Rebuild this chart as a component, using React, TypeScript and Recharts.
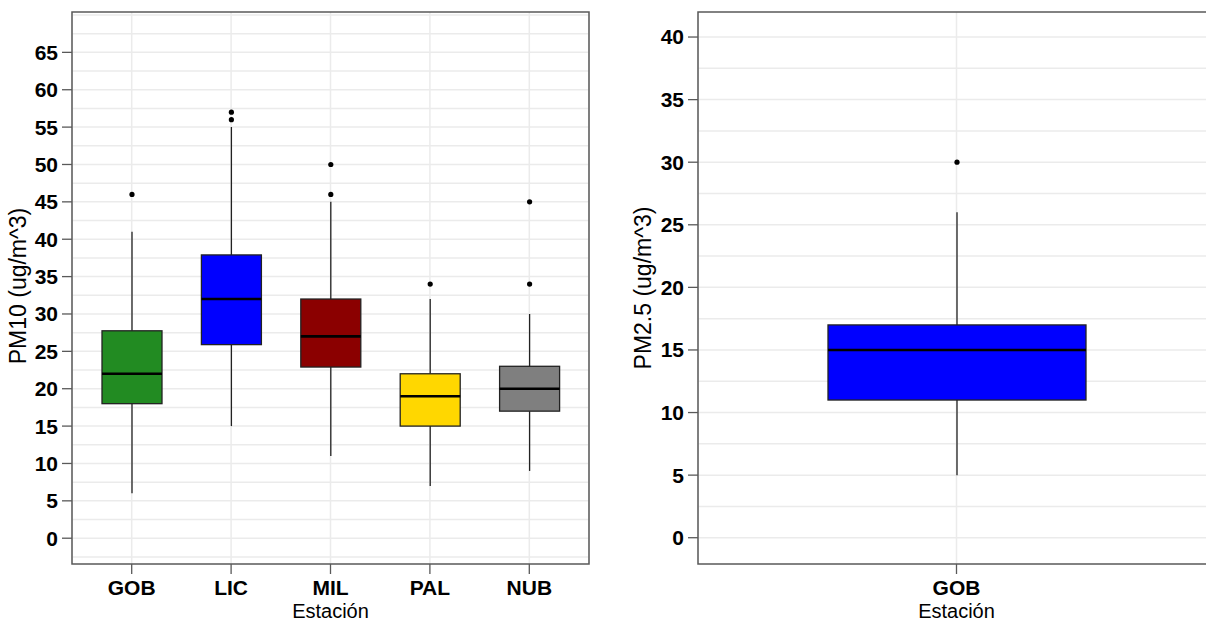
import React from 'react';
import { ComposedChart, Bar, XAxis, YAxis, CartesianGrid } from 'recharts';

const FONT = '"Liberation Sans", Arial, sans-serif';

// PM10 por estación
const pm10Stations = ['GOB', 'LIC', 'MIL', 'PAL', 'NUB'];
const pm10Colors = ['#228B22', '#0000FF', '#8B0000', '#FFD700', '#7F7F7F'];
const pm10Low = [6, 15, 11, 7, 9];
const pm10Q1 = [18, 25.9, 22.9, 15, 17];
const pm10Median = [22, 32, 27, 19, 20];
const pm10Q3 = [27.75, 37.9, 32, 22, 23];
const pm10High = [41, 55, 45, 32, 30];
const pm10Outliers = [[46], [56, 57], [46, 50], [34], [34, 45]];
const pm10Ticks = [0, 5, 10, 15, 20, 25, 30, 35, 40, 45, 50, 55, 60, 65];
const pm10Grid = [-2.5, 0, 2.5, 5, 7.5, 10, 12.5, 15, 17.5, 20, 22.5, 25, 27.5, 30, 32.5, 35, 37.5, 40, 42.5, 45, 47.5, 50, 52.5, 55, 57.5, 60, 62.5, 65, 67.5, 70];

// PM2.5 por estación
const pm25Stations = ['GOB'];
const pm25Colors = ['#0000FF'];
const pm25Low = [5];
const pm25Q1 = [11];
const pm25Median = [15];
const pm25Q3 = [17];
const pm25High = [26];
const pm25Outliers = [[30]];
const pm25Ticks = [0, 5, 10, 15, 20, 25, 30, 35, 40];
const pm25Grid = [0, 2.5, 5, 7.5, 10, 12.5, 15, 17.5, 20, 22.5, 25, 27.5, 30, 32.5, 35, 37.5, 40];

function buildRows(names: string[], colors: string[], low: number[], q1: number[], med: number[], q3: number[], high: number[], out: number[][]) {
  return names.map((name, i) => ({
    name,
    color: colors[i],
    low: low[i],
    q1: q1[i],
    median: med[i],
    q3: q3[i],
    high: high[i],
    outliers: out[i],
    box: [q1[i], q3[i]],
  }));
}

const pm10Data = buildRows(pm10Stations, pm10Colors, pm10Low, pm10Q1, pm10Median, pm10Q3, pm10High, pm10Outliers);
const pm25Data = buildRows(pm25Stations, pm25Colors, pm25Low, pm25Q1, pm25Median, pm25Q3, pm25High, pm25Outliers);

// whiskers, box, median and outliers all placed with the bar's own y scale
const BoxShape = (props: any) => {
  const { x, y, width, height, payload } = props;
  if (!payload) return null;
  const ppu = height / (payload.q3 - payload.q1);
  const py = (v: number) => y + (payload.q3 - v) * ppu;
  const cx = x + width / 2;
  return (
    <g>
      <line x1={cx} x2={cx} y1={py(payload.high)} y2={py(payload.q3)} stroke="#222" strokeWidth={1.3} />
      <line x1={cx} x2={cx} y1={py(payload.q1)} y2={py(payload.low)} stroke="#222" strokeWidth={1.3} />
      <rect x={x} y={y} width={width} height={height} fill={payload.color} stroke="#222" strokeWidth={1.3} />
      <line x1={x} x2={x + width} y1={py(payload.median)} y2={py(payload.median)} stroke="#000" strokeWidth={2.6} />
      {payload.outliers.map((v: number, i: number) => (
        <circle key={i} cx={cx} cy={py(v)} r={2.6} fill="#000" />
      ))}
    </g>
  );
};

const tickStyle = { fontSize: 21, fontWeight: 'bold', fill: '#000', fontFamily: FONT };

function BoxPanel({ data, domain, ticks, grid, width, yAxisWidth, marginRight, barSize, padX }: any) {
  return (
    <ComposedChart
      width={width}
      height={621}
      data={data}
      margin={{ top: 12, right: marginRight, left: 0, bottom: 27 }}
    >
      <CartesianGrid stroke="#ebebeb" strokeWidth={1.5} horizontalValues={grid} />
      <XAxis
        dataKey="name"
        type="category"
        padding={{ left: padX, right: padX }}
        height={30}
        axisLine={false}
        tickLine={{ stroke: '#595959', strokeWidth: 1.3 }}
        tickSize={10}
        tickMargin={6}
        tick={tickStyle}
      />
      <YAxis
        type="number"
        domain={domain}
        ticks={ticks}
        interval={0}
        allowDataOverflow
        width={yAxisWidth}
        axisLine={false}
        tickLine={{ stroke: '#595959', strokeWidth: 1.3 }}
        tickSize={10}
        tickMargin={4}
        tick={tickStyle}
      />
      <Bar dataKey="box" barSize={barSize} shape={BoxShape} isAnimationActive={false} />
    </ComposedChart>
  );
}

export default function App() {
  return (
    <div style={{ position: 'absolute', left: 0, top: 0, width: 1206, height: 621, overflow: 'hidden', background: '#fff', fontFamily: FONT }}>
      <div style={{ position: 'absolute', left: 0, top: 0 }}>
        <BoxPanel
          data={pm10Data}
          domain={[-3.45, 70.4]}
          ticks={pm10Ticks}
          grid={pm10Grid}
          width={600}
          yAxisWidth={72}
          marginRight={11}
          barSize={60}
          padX={10}
        />
      </div>
      <div style={{ position: 'absolute', left: 606, top: 0 }}>
        <BoxPanel
          data={pm25Data}
          domain={[-2.1, 42]}
          ticks={pm25Ticks}
          grid={pm25Grid}
          width={614}
          yAxisWidth={92}
          marginRight={5}
          barSize={258}
          padX={0}
        />
      </div>
      <svg width={1206} height={621} style={{ position: 'absolute', left: 0, top: 0, pointerEvents: 'none' }}>
        {/* panel frames */}
        <rect x={72} y={12} width={517} height={552} fill="none" stroke="#595959" strokeWidth={1.5} />
        <rect x={698} y={12} width={517} height={552} fill="none" stroke="#595959" strokeWidth={1.5} />
        <text x={330.5} y={618} textAnchor="middle" fontSize={20} fontFamily={FONT} fill="#000">Estación</text>
        <text x={956.5} y={618} textAnchor="middle" fontSize={20} fontFamily={FONT} fill="#000">Estación</text>
        <text transform="translate(25.5,286) rotate(-90)" textAnchor="middle" fontSize={23} fontFamily={FONT} fill="#000">PM10 (ug/m^3)</text>
        <text transform="translate(651,288) rotate(-90)" textAnchor="middle" fontSize={23} fontFamily={FONT} fill="#000">PM2.5 (ug/m^3)</text>
      </svg>
    </div>
  );
}
